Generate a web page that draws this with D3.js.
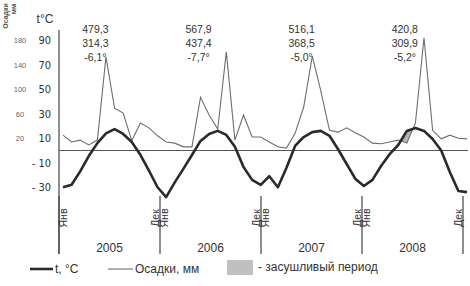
<!DOCTYPE html>
<html><head><meta charset="utf-8">
<script src="https://cdn.jsdelivr.net/npm/d3@7"></script>
<style>
body{margin:0;background:#fff}
text{font-family:"Liberation Sans",Arial,sans-serif;fill:#333}
</style>
</head><body><svg id="c" width="470" height="286"></svg>
<script>
const years = [2005, 2006, 2007, 2008];
const monthJan = "Янв", monthDec = "Дек";
// monthly mean temperature, °C (Jan 2005 .. Dec 2008)
const temperature = [
  -30, -28, -17, -4.5, 6, 14, 17.5, 13.5, 7, -3.5, -16.5, -30,
  -38, -26, -15, -3.7, 7.8, 13.5, 16, 12.7, 3, -13.5, -24, -28,
  -21, -30, -14, 3.7, 11, 15, 16, 12, 1, -11, -23, -29,
  -24, -12.7, -3, 4.5, 16, 18.4, 16, 9.4, 0, -17.5, -33, -34
];
// monthly precipitation, mm
const precipitation = [
  25, 14, 17, 9, 17, 153, 69, 61, 16, 45, 37, 24,
  14, 12, 6, 6, 87, 58, 35, 161, 17, 58, 22, 22,
  14, 6, 4, 28, 71, 154, 97, 33, 30, 37, 29, 22,
  12, 11, 14, 17, 12, 45, 184, 33, 19, 25, 20, 19
];
const annualPrecip = ["479,3", "567,9", "516,1", "420,8"];
const warmPrecip = ["314,3", "437,4", "368,5", "309,9"];
const meanTemp = ["-6,1°", "-7,7°", "-5,0°", "-5,2°"];
const tempTicks = [90, 70, 50, 30, 10, -10, -30];
const precipTicks = [180, 140, 100, 60, 20];

const svg = d3.select("#c");
const x = d3.scaleLinear().domain([0, temperature.length - 1]).range([63, 467]);
const yearX = d3.scaleLinear().domain([years[0], years[years.length - 1] + 1]).range([59, 463]);
const yT = d3.scaleLinear().domain([-30, 90]).range([187.25, 40.25]);
const yP = d3.scaleLinear().domain([0, 180]).range([150.5, 40.25]);

const idx = d3.range(temperature.length);

// dry period shading: between temperature line (above) and precipitation line (below)
const defs = svg.append("defs");
defs.append("clipPath").attr("id", "abovePrecip")
  .append("path")
  .attr("d", d3.area().x(i => x(i)).y0(0).y1(i => yP(precipitation[i]))(idx));
svg.append("path")
  .attr("clip-path", "url(#abovePrecip)")
  .attr("d", d3.area().x(i => x(i)).y0(i => yT(temperature[i])).y1(300)(idx))
  .attr("fill", "#b5b5b5");

// zero line
svg.append("line").attr("x1", 59).attr("x2", 468)
  .attr("y1", yT(0)).attr("y2", yT(0))
  .attr("stroke", "#555").attr("stroke-width", 1);

// left axis
svg.append("line").attr("x1", 59).attr("x2", 59).attr("y1", 30).attr("y2", 254)
  .attr("stroke", "#444").attr("stroke-width", 1.2);

// year ticks
const bounds = years.concat([years[years.length - 1] + 1]);
svg.selectAll(".ytick").data(bounds).enter().append("line")
  .attr("x1", d => yearX(d)).attr("x2", d => yearX(d))
  .attr("y1", 196).attr("y2", 254)
  .attr("stroke", "#444").attr("stroke-width", 1.2);

// month labels
bounds.forEach((b, k) => {
  const bx = yearX(b);
  if (k > 0) {
    svg.append("text").attr("transform", `translate(${bx - 1},218) rotate(-90)`)
      .attr("text-anchor", "middle").attr("font-size", 10.5).text(monthDec);
  }
  if (k < bounds.length - 1) {
    svg.append("text").attr("transform", `translate(${bx + 8},218) rotate(-90)`)
      .attr("text-anchor", "middle").attr("font-size", 10.5).text(monthJan);
  }
});

// year labels
svg.selectAll(".yl").data(years).enter().append("text")
  .attr("x", d => yearX(d + 0.5)).attr("y", 252)
  .attr("text-anchor", "middle").attr("font-size", 12).text(d => d);

// temperature tick labels
svg.selectAll(".tl").data(tempTicks).enter().append("text")
  .attr("x", 51).attr("y", d => yT(d) + 4)
  .attr("text-anchor", "end").attr("font-size", 11)
  .style("font-family", "'Liberation Sans Narrow','DejaVu Sans Condensed',sans-serif")
  .text(d => d < 0 ? "- " + Math.abs(d) : d);

// precipitation tick labels
svg.selectAll(".pl").data(precipTicks).enter().append("text")
  .attr("x", 20).attr("y", d => yP(d) + 3)
  .attr("text-anchor", "middle").attr("font-size", 7.5).style("fill", "#666")
  .text(d => d);

svg.append("text").attr("x", 45).attr("y", 23).attr("text-anchor", "middle")
  .attr("font-size", 12).text("t°C");
svg.append("text").attr("transform", "translate(8,16) rotate(-90)")
  .attr("text-anchor", "middle").attr("font-size", 7).attr("font-weight", "bold")
  .style("fill", "#555").text("Осадки");
svg.append("text").attr("transform", "translate(16,9) rotate(-90)")
  .attr("text-anchor", "middle").attr("font-size", 7).attr("font-weight", "bold")
  .style("fill", "#555").text("мм");

// lines
svg.append("path").datum(idx)
  .attr("d", d3.line().x(i => x(i)).y(i => yP(precipitation[i])))
  .attr("fill", "none").attr("stroke", "#6e6e6e").attr("stroke-width", 1.1);
svg.append("path").datum(idx)
  .attr("d", d3.line().x(i => x(i)).y(i => yT(temperature[i])))
  .attr("fill", "none").attr("stroke", "#2a2a2a").attr("stroke-width", 2.6)
  .attr("stroke-linejoin", "round");

// annual annotations
years.forEach((yr, k) => {
  const ax = x(k * 12 + 4) - 2;
  [annualPrecip[k], warmPrecip[k], meanTemp[k]].forEach((t, j) => {
    svg.append("text").attr("x", ax).attr("y", 33 + j * 14)
      .attr("text-anchor", "middle").attr("font-size", 10.5).text(t);
  });
});

// legend
const lg = svg.append("g");
lg.append("line").attr("x1", 30).attr("x2", 53).attr("y1", 269).attr("y2", 269)
  .attr("stroke", "#2a2a2a").attr("stroke-width", 2.6);
lg.append("text").attr("x", 55).attr("y", 273).attr("font-size", 12).text("t, °C");
lg.append("line").attr("x1", 108).attr("x2", 133).attr("y1", 269).attr("y2", 269)
  .attr("stroke", "#6e6e6e").attr("stroke-width", 1.1);
lg.append("text").attr("x", 135).attr("y", 273).attr("font-size", 12).text("Осадки, мм");
lg.append("rect").attr("x", 227).attr("y", 260).attr("width", 26).attr("height", 15)
  .attr("fill", "#c0c0c0");
lg.append("text").attr("x", 258).attr("y", 271).attr("font-size", 12).text("- засушливый период");
</script>
</body></html>
